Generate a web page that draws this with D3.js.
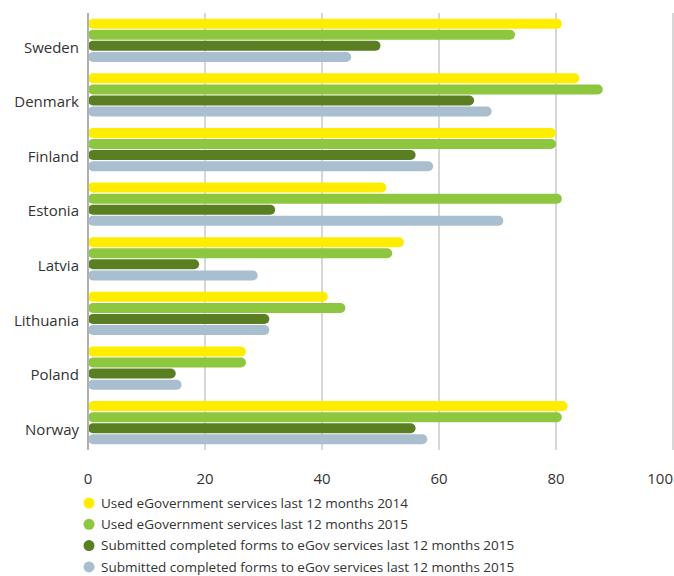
<!DOCTYPE html>
<html>
<head>
<meta charset="utf-8">
<script src="https://cdn.jsdelivr.net/npm/d3@7"></script>
<style>
  html, body { margin: 0; padding: 0; background: #fff; }
  svg { display: block; font-family: "Open Sans", "Lato", sans-serif; }
</style>
</head>
<body>
<svg id="chart" width="674" height="576"></svg>
<script>
// Countries, top to bottom
const countries = ["Sweden", "Denmark", "Finland", "Estonia", "Latvia", "Lithuania", "Poland", "Norway"];

// Series names (legend order) and values in percent, one per country
const seriesNames = [
  "Used eGovernment services last 12 months 2014",
  "Used eGovernment services last 12 months 2015",
  "Submitted completed forms to eGov services last 12 months 2015",
  "Submitted completed forms to eGov services last 12 months 2015"
];
const used2014      = [81, 84, 80, 51, 54, 41, 27, 82];
const used2015      = [73, 88, 80, 81, 52, 44, 27, 81];
const submitted2015 = [50, 66, 56, 32, 19, 31, 15, 56];
const submittedB    = [45, 69, 59, 71, 29, 31, 16, 58];

const xTicks = [0, 20, 40, 60, 80, 100];
const seriesColors = ["#FFED00", "#8DC63F", "#5A7F23", "#A9BECE"];

const series = [used2014, used2015, submitted2015, submittedB];

const svg = d3.select("#chart");
const plotLeft = 88, plotRight = 673, plotTop = 13, plotBottom = 450;

const x = d3.scaleLinear().domain([0, 100]).range([plotLeft, plotRight]);
const y = d3.scaleBand().domain(countries).range([plotTop, plotBottom])
  .paddingInner(0.21).paddingOuter(0.105);
const ySub = d3.scaleBand().domain(d3.range(series.length))
  .range([0, y.bandwidth()]).paddingInner(0.1).paddingOuter(0);

// Vertical gridlines
svg.append("g")
  .selectAll("line")
  .data(xTicks.slice(1))
  .join("line")
  .attr("x1", d => x(d)).attr("x2", d => x(d))
  .attr("y1", plotTop).attr("y2", plotBottom)
  .attr("stroke", "#bdbdbd").attr("stroke-width", 1.2);

// Bars
const groups = svg.append("g")
  .selectAll("g")
  .data(countries)
  .join("g")
  .attr("transform", d => `translate(0,${y(d)})`);

groups.selectAll("rect")
  .data((c, i) => series.map((s, k) => ({ k, v: s[i] })))
  .join("rect")
  .attr("x", x(0))
  .attr("y", d => ySub(d.k))
  .attr("width", d => x(d.v) - x(0))
  .attr("height", ySub.bandwidth())
  .attr("rx", ySub.bandwidth() / 2)
  .attr("fill", d => seriesColors[d.k]);

// Baseline axis line
svg.append("line")
  .attr("x1", x(0)).attr("x2", x(0))
  .attr("y1", plotTop).attr("y2", plotBottom)
  .attr("stroke", "#b0b0b0").attr("stroke-width", 2);

// Category labels
svg.append("g")
  .selectAll("text")
  .data(countries)
  .join("text")
  .attr("x", 79)
  .attr("y", d => y(d) + y.bandwidth() / 2 + 7)
  .attr("dy", "0.35em")
  .attr("text-anchor", "end")
  .attr("font-size", 15)
  .attr("fill", "#333")
  .text(d => d);

// X tick labels (the last one is kept inside the frame)
const last = xTicks[xTicks.length - 1];
svg.append("g")
  .selectAll("text")
  .data(xTicks)
  .join("text")
  .attr("x", d => d === last ? plotRight : x(d))
  .attr("y", 484)
  .attr("text-anchor", d => d === last ? "end" : "middle")
  .attr("font-size", 15)
  .attr("fill", "#333")
  .text(d => d);

// Legend
const legend = svg.append("g")
  .selectAll("g")
  .data(seriesNames)
  .join("g")
  .attr("transform", (d, i) => `translate(89,${503 + i * 21.3})`);

legend.append("circle")
  .attr("r", 5.5)
  .attr("fill", (d, i) => seriesColors[i]);

legend.append("text")
  .attr("x", 12)
  .attr("dy", "0.35em")
  .attr("font-size", 13.5)
  .attr("fill", "#333")
  .text(d => d);
</script>
</body>
</html>
